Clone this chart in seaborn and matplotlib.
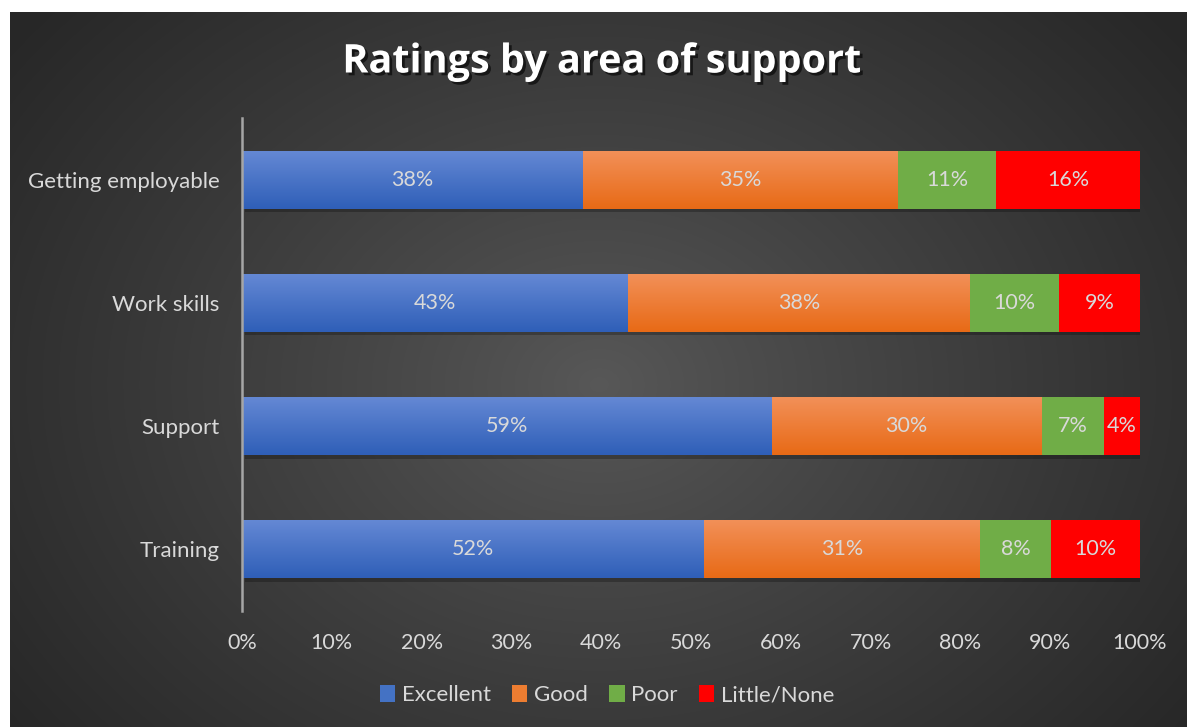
import numpy as np
import pandas as pd
import matplotlib
matplotlib.use("Agg")
import matplotlib.pyplot as plt
import matplotlib.patheffects as pe
from matplotlib.patches import Patch
import seaborn as sns

# ---------------- data ----------------
categories = ["Getting employable", "Work skills", "Support", "Training"]
series_names = ["Excellent", "Good", "Poor", "Little/None"]
excellent = [38, 43, 59, 52]
good = [35, 38, 30, 31]
poor = [11, 10, 7, 8]
little_none = [16, 9, 4, 10]
x_tick_labels = ["0%", "10%", "20%", "30%", "40%", "50%", "60%", "70%", "80%", "90%", "100%"]

series_values = [excellent, good, poor, little_none]
colors = ["#4472c4", "#ed7d31", "#70ad47", "#ff0000"]
grad_top = {0: "#6488d4", 1: "#f29058"}
grad_bot = {0: "#2f5fb8", 1: "#e86a16"}

sns.set_theme(style="white")
plt.rcParams["font.family"] = ["Lato", "DejaVu Sans"]

W, H = 11.87, 7.27
fig = plt.figure(figsize=(W, H), dpi=100, facecolor="white")

# background radial gradient panel
bg = fig.add_axes([10 / 1187, 0, 1 - 10 / 1187, 1 - 12 / 727])
bg.set_axis_off()
ny, nx = 400, 700
yy, xx = np.mgrid[0:ny, 0:nx]
cx, cy = nx * 0.50, ny * 0.52
r = np.sqrt(((xx - cx) / (nx * 0.62)) ** 2 + ((yy - cy) / (ny * 0.80)) ** 2)
r = np.clip(r, 0, 1)
c_in, c_out = 0.345, 0.155
val = c_in + (c_out - c_in) * r ** 0.9
img = np.dstack([val, val, val])
bg.imshow(img, aspect="auto", extent=(0, 1, 0, 1), interpolation="bicubic")
bg.set_xlim(0, 1)
bg.set_ylim(0, 1)

ax = fig.add_axes([242 / 1187, 1 - 611 / 727, 898 / 1187, 493 / 727])
ax.set_facecolor("none")

totals = np.array([sum(v[i] for v in series_values) for i in range(len(categories))], dtype=float)
widths_all = [np.array(v, dtype=float) / totals * 100 for v in series_values]
lefts = np.zeros(len(categories))

shadow = [pe.SimplePatchShadow(offset=(2.5, -2.5), shadow_rgbFace="black", alpha=0.25), pe.Normal()]

for si, (name, w) in enumerate(zip(series_names, widths_all)):
    df = pd.DataFrame({"cat": categories, "val": w})
    n0 = len(ax.patches)
    sns.barplot(data=df, x="val", y="cat", orient="h", color=colors[si], width=0.47,
                ax=ax, saturation=1, errorbar=None, linewidth=0)
    new = ax.patches[n0:]
    for j, p in enumerate(new):
        p.set_x(lefts[j])
        p.set_zorder(2)
        p.set_path_effects(shadow)
        x0, y0 = p.get_x(), p.get_y()
        pw, ph = p.get_width(), p.get_height()
        if si in grad_top:
            c1 = np.array(matplotlib.colors.to_rgb(grad_top[si]))
            c2 = np.array(matplotlib.colors.to_rgb(grad_bot[si]))
            t = np.linspace(0, 1, 64)[:, None]
            g = (c1 * (1 - t) + c2 * t)[:, None, :]
            im = ax.imshow(g, aspect="auto", extent=(x0, x0 + pw, y0 + ph, y0),
                           zorder=2.5, interpolation="bilinear")
            im.set_clip_path(p)
        ax.text(x0 + pw / 2, y0 + ph / 2, f"{series_values[si][j]}%", ha="center", va="center",
                color="#d9d9d9", fontsize=15.5, zorder=5)
    lefts = lefts + w

ax.set_xlim(0, 100)
ax.set_ylim(3.5, -0.5)
ax.set_xticks(np.arange(0, 101, 10))
ax.set_xticklabels(x_tick_labels)
ax.set_xlabel("")
ax.set_ylabel("")
ax.tick_params(axis="x", colors="#d9d9d9", labelsize=15.5, length=0, pad=16)
ax.tick_params(axis="y", colors="#d9d9d9", labelsize=16, length=0, pad=16)
for s in ["top", "right", "bottom"]:
    ax.spines[s].set_visible(False)
ax.spines["left"].set_color("#a6a6a6")
ax.spines["left"].set_linewidth(1.8)
ax.spines["left"].set_zorder(6)
ax.grid(False)

# title
fig.text(0.507, 1 - 62 / 727, "Ratings by area of support", ha="center", va="center",
         color="white", fontsize=28.5, fontweight="bold", family=["Open Sans", "DejaVu Sans"],
         path_effects=[pe.withSimplePatchShadow(offset=(2, -2), shadow_rgbFace="black", alpha=0.6)])

handles = [Patch(facecolor=c, edgecolor="none") for c in colors]
leg = fig.legend(handles, series_names, loc="center", bbox_to_anchor=(607 / 1187, 1 - 695 / 727),
                 ncol=4, frameon=False, fontsize=16, handlelength=0.7, handleheight=0.8,
                 handletextpad=0.3, columnspacing=0.95, labelcolor="#d9d9d9")

fig.savefig("out.png", dpi=100, facecolor="white")
